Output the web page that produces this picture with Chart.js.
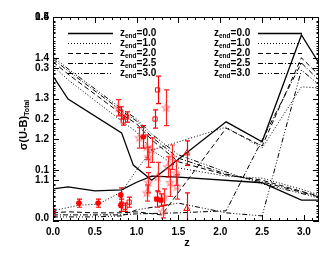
<!DOCTYPE html>
<html><head><meta charset="utf-8">
<script src="https://cdn.jsdelivr.net/npm/chart.js@4.4.0/dist/chart.umd.min.js"></script>
<style>html,body{margin:0;padding:0;background:#fff;}canvas{display:block;}</style>
</head><body>
<canvas id="c" width="334" height="256"></canvas>
<script>
// ---- tick labels ----
const zTickValues = [0, 0.5, 1.0, 1.5, 2.0, 2.5, 3.0];
const zTickLabels = ['0.0', '0.5', '1.0', '1.5', '2.0', '2.5', '3.0'];
const yTicksLow = [0, 0.1, 0.2, 0.3, 0.4];
const yLabelsLow = ['0.0', '0.1', '0.2', '0.3', '0.4'];
const yTicksHigh = [1.1, 1.2, 1.3, 1.4, 1.5];
const yLabelsHigh = ['1.1', '1.2', '1.3', '1.4', '1.5'];
const legendValues = ['0.0', '1.0', '2.0', '2.5', '3.0'];

// ---- model curves, upper panel (scale 1.0-1.5) ----
const zUp0 = [0, 0.18, 0.82, 0.96, 1.18, 2.07, 2.5, 2.97, 3.18];
const up0 = [1.355, 1.299, 1.216, 1.137, 1.100, 1.243, 1.194, 1.456, 1.387];
const zUp = [0, 0.18, 0.82, 1.0, 1.18, 1.5, 2.07, 2.5, 3.0, 3.18];
const up1 = [1.380, 1.346, 1.245, 1.218, 1.174, 1.130, 1.110, 1.105, 1.076, 1.064];
const up2 = [1.390, 1.360, 1.262, 1.238, 1.199, 1.145, 1.113, 1.100, 1.071, 1.061];
const up3 = [1.397, 1.368, 1.270, 1.245, 1.206, 1.154, 1.115, 1.096, 1.069, 1.059];
const up4 = [1.402, 1.373, 1.275, 1.250, 1.213, 1.162, 1.120, 1.091, 1.066, 1.056];

// ---- model curves, lower panel (scale 0.0-0.4) ----
const zLow0 = [0, 0.18, 0.5, 0.82, 1.0, 1.18, 1.5, 2.5, 2.97, 3.18];
const low0 = [0.063, 0.067, 0.059, 0.061, 0.076, 0.088, 0.086, 0.075, 0.041, 0.041];
const zLow1 = [0, 0.31, 0.54, 0.82, 1.0, 1.18, 2.07, 2.5, 2.97, 3.18];
const low1 = [0.020, 0.031, 0.033, 0.057, 0.100, 0.139, 0.184, 0.143, 0.263, 0.261];
const zLow2 = [0, 0.18, 0.5, 0.82, 1.0, 1.3, 2.07, 2.5, 2.97, 3.18];
const low2 = [0.016, 0.018, 0.016, 0.016, 0.018, 0.012, 0.182, 0.147, 0.320, 0.286];
const zLow34 = [0, 0.5, 0.82, 1.0, 1.5, 2.07, 2.5, 2.97, 3.18];
const low3 = [0.012, 0.012, 0.012, 0.014, 0.016, 0.020, 0.159, 0.310, 0.276];
const low4 = [0.008, 0.008, 0.010, 0.022, 0.035, 0.016, 0.010, 0.296, 0.267];

// ---- observations ----
const filledZ = [0.00, 0.31, 0.54, 0.81, 0.81, 1.08];
const filledV = [0.020, 0.035, 0.035, 0.051, 0.031, 0.165];
const filledE = [0.010, 0.008, 0.008, 0.014, 0.012, 0.022];
const fsqZ = [1.24, 1.29];
const fsqV = [0.043, 0.041];
const fsqE = [0.016, 0.012];
const osqZ = [0.81, 0.88, 0.84, 0.91, 0.86, 1.25, 1.22];
const osqV = [0.212, 0.204, 0.196, 0.037, 0.027, 0.257, 0.200];
const osqE = [0.012, 0.010, 0.008, 0.010, 0.008, 0.027, 0.018];
const starZ = [0.78, 1.35, 1.03, 1.12, 1.14, 1.42, 1.37, 1.48, 1.40, 1.14, 1.12, 1.33, 1.47, 1.25, 1.31, 1.18];
const starV = [0.222, 0.222, 0.163, 0.145, 0.125, 0.125, 0.106, 0.067, 0.075, 0.075, 0.055, 0.047, 0.094, 0.086, 0.018, 0.139];
const starE = [0.016, 0.035, 0.020, 0.024, 0.020, 0.024, 0.020, 0.024, 0.027, 0.020, 0.016, 0.016, 0.024, 0.029, 0.012, 0.024];
const triZ = [1.60, 1.60];
const triV = [0.133, 0.024];
const triE = [0.024, 0.031];

const pts = (xs, ys) => xs.map((x, i) => ({x: x, y: ys[i]}));

const RED = '#ff0000';
const PINK = 'rgba(255,70,70,0.6)';
const FONT = '"Liberation Sans", Arial, Helvetica, sans-serif';
const dashes = [[], [1, 2], [5, 3], [5, 2, 1, 2], [5, 2, 1, 2, 1, 2, 1, 2]];

function starImg(color, r) {
  const c = document.createElement('canvas');
  const s = Math.ceil(2 * r + 3);
  c.width = s; c.height = s;
  const g = c.getContext('2d');
  g.strokeStyle = color; g.lineWidth = 1.2;
  g.beginPath();
  for (let i = 0; i < 10; i++) {
    const ang = -Math.PI / 2 + i * Math.PI / 5;
    const rr = i % 2 ? r * 0.45 : r;
    const px = s / 2 + rr * Math.cos(ang), py = s / 2 + rr * Math.sin(ang);
    if (i) g.lineTo(px, py); else g.moveTo(px, py);
  }
  g.closePath(); g.stroke();
  return c;
}

function lineDS(xs, ys, dashIdx, axis, w) {
  return {type: 'line', data: pts(xs, ys), yAxisID: axis, borderColor: '#000',
    borderWidth: w || 1, borderDash: dashes[dashIdx], pointRadius: 0, tension: 0,
    fill: false, showLine: true};
}

const datasets = [
  {type: 'scatter', data: pts(filledZ, filledV), err: filledE, yAxisID: 'y', pointStyle: 'star',
    radius: 3, borderColor: RED, borderWidth: 1.6, backgroundColor: RED, errColor: RED},
  {type: 'scatter', data: pts(fsqZ, fsqV), err: fsqE, yAxisID: 'y', pointStyle: 'rect',
    radius: 3, borderColor: RED, borderWidth: 1, backgroundColor: RED, errColor: RED},
  {type: 'scatter', data: pts(osqZ, osqV), err: osqE, yAxisID: 'y', pointStyle: 'rect',
    radius: 3, borderColor: RED, borderWidth: 1, backgroundColor: 'rgba(0,0,0,0)', errColor: RED},
  {type: 'scatter', data: pts(triZ, triV), err: triE, yAxisID: 'y', pointStyle: 'triangle',
    radius: 3.5, borderColor: RED, borderWidth: 1, backgroundColor: 'rgba(0,0,0,0)', errColor: RED},
  {type: 'scatter', data: pts(starZ, starV), err: starE, yAxisID: 'y', pointStyle: starImg(PINK, 4),
    radius: 4, borderColor: PINK, errColor: 'rgba(255,0,0,0.85)'},
  lineDS(zUp0, up0, 0, 'y2', 1.3),
  lineDS(zUp, up1, 1, 'y2'),
  lineDS(zUp, up2, 2, 'y2'),
  lineDS(zUp, up3, 3, 'y2'),
  lineDS(zUp, up4, 4, 'y2'),
  lineDS(zLow0, low0, 0, 'y', 1.3),
  lineDS(zLow1, low1, 1, 'y'),
  lineDS(zLow2, low2, 2, 'y'),
  lineDS(zLow34, low3, 3, 'y'),
  lineDS(zLow34, low4, 4, 'y'),
];

const errPlugin = {
  id: 'errbars',
  beforeDatasetDraw(chart, args) {
    const ds = chart.data.datasets[args.index];
    if (!ds.err) return;
    const ctx = chart.ctx, a = chart.chartArea;
    const xs = chart.scales.x, ys = chart.scales[ds.yAxisID];
    ctx.save();
    ctx.beginPath(); ctx.rect(a.left, a.top, a.right - a.left, a.bottom - a.top); ctx.clip();
    ctx.strokeStyle = ds.errColor; ctx.lineWidth = 1.2;
    ds.data.forEach((p, i) => {
      const px = Math.round(xs.getPixelForValue(p.x)) + 0.5;
      const y1 = ys.getPixelForValue(p.y - ds.err[i]);
      const y2 = ys.getPixelForValue(p.y + ds.err[i]);
      ctx.beginPath();
      ctx.moveTo(px, y1); ctx.lineTo(px, y2);
      ctx.moveTo(px - 2.5, y1); ctx.lineTo(px + 2.5, y1);
      ctx.moveTo(px - 2.5, y2); ctx.lineTo(px + 2.5, y2);
      ctx.stroke();
    });
    ctx.restore();
  }
};

function drawLegendEntry(ctx, textX, lineX0, lineX1, y, i) {
  ctx.save();
  ctx.strokeStyle = '#000'; ctx.lineWidth = i === 0 ? 1.3 : 1;
  ctx.setLineDash(dashes[i]);
  ctx.beginPath(); ctx.moveTo(lineX0, y + 0.5); ctx.lineTo(lineX1, y + 0.5); ctx.stroke();
  ctx.setLineDash([]);
  ctx.fillStyle = '#000'; ctx.textBaseline = 'middle'; ctx.textAlign = 'left';
  ctx.font = 'bold 10px ' + FONT;
  let x = textX;
  ctx.fillText('z', x, y); x += ctx.measureText('z').width;
  ctx.font = 'bold 6.5px ' + FONT;
  ctx.fillText('end', x, y + 3); x += ctx.measureText('end').width;
  ctx.font = 'bold 10px ' + FONT;
  ctx.fillText('=' + legendValues[i], x, y);
  ctx.restore();
}

const axisPlugin = {
  id: 'axes',
  afterDraw(chart) {
    const ctx = chart.ctx, a = chart.chartArea;
    const xs = chart.scales.x, yA = chart.scales.y, yB = chart.scales.y2;
    ctx.save();
    ctx.strokeStyle = '#000'; ctx.lineWidth = 1;
    ctx.strokeRect(a.left + 0.5, a.top + 0.5, a.right - a.left - 1, a.bottom - a.top - 1);
    ctx.beginPath();
    for (let k = 0; k <= 31; k++) {
      const v = k / 10;
      const px = Math.round(xs.getPixelForValue(v)) + 0.5;
      const len = (k % 5 === 0) ? 6 : 3;
      ctx.moveTo(px, a.bottom); ctx.lineTo(px, a.bottom - len);
      ctx.moveTo(px, a.top); ctx.lineTo(px, a.top + len);
    }
    [[yA, 0, 0.4], [yB, 1.0, 1.5]].forEach(([sc, lo, hi]) => {
      const n = Math.round((hi - lo) * 100);
      for (let k = 0; k <= n; k++) {
        const v = lo + k / 100;
        const py = Math.round(sc.getPixelForValue(v)) + 0.5;
        const len = (k % 10 === 0) ? 6 : 2.5;
        ctx.moveTo(a.left, py); ctx.lineTo(a.left + len, py);
        ctx.moveTo(a.right, py); ctx.lineTo(a.right - len, py);
      }
    });
    ctx.stroke();

    ctx.fillStyle = '#000';
    ctx.font = 'bold 10px ' + FONT;
    ctx.textAlign = 'center'; ctx.textBaseline = 'middle';
    zTickValues.forEach((v, i) => ctx.fillText(zTickLabels[i], xs.getPixelForValue(v), a.bottom + 11));
    ctx.textAlign = 'right';
    yTicksLow.forEach((v, i) => ctx.fillText(yLabelsLow[i], a.left - 4, Math.min(yA.getPixelForValue(v), a.bottom - 3)));
    yTicksHigh.forEach((v, i) => ctx.fillText(yLabelsHigh[i], a.left - 4, yB.getPixelForValue(v)));
    ctx.textAlign = 'center';
    ctx.font = 'bold 11px ' + FONT;
    ctx.fillText('z', (a.left + a.right) / 2 + 1, a.bottom + 22);
    ctx.save();
    ctx.translate(24, 125);
    ctx.rotate(-Math.PI / 2);
    ctx.font = 'bold 11px ' + FONT;
    const main = 'σ(U-B)';
    const wMain = ctx.measureText(main).width;
    ctx.font = 'bold 7px ' + FONT;
    const sub = 'Total';
    const wSub = ctx.measureText(sub).width;
    const start = -(wMain + wSub) / 2;
    ctx.textAlign = 'left'; ctx.textBaseline = 'middle';
    ctx.font = 'bold 11px ' + FONT;
    ctx.fillText(main, start, 0);
    ctx.font = 'bold 7px ' + FONT;
    ctx.fillText(sub, start + wMain, 3.5);
    ctx.restore();
    const rows = [33, 43, 53, 63, 73];
    rows.forEach((y, i) => {
      drawLegendEntry(ctx, 120, 68, 113, y, i);
      drawLegendEntry(ctx, 214, 258, 302, y, i);
    });
    ctx.restore();
  }
};

new Chart(document.getElementById('c'), {
  type: 'scatter',
  data: {datasets: datasets},
  options: {
    responsive: false, animation: false,
    layout: {padding: {left: 53, right: 15, top: 17, bottom: 35}},
    plugins: {legend: {display: false}, tooltip: {enabled: false}},
    scales: {
      x: {type: 'linear', min: 0, max: 3.18, display: false},
      y: {type: 'linear', min: 0, max: 0.4, display: false},
      y2: {type: 'linear', min: 1.0, max: 1.5, display: false}
    }
  },
  plugins: [errPlugin, axisPlugin]
});
</script>
</body></html>
